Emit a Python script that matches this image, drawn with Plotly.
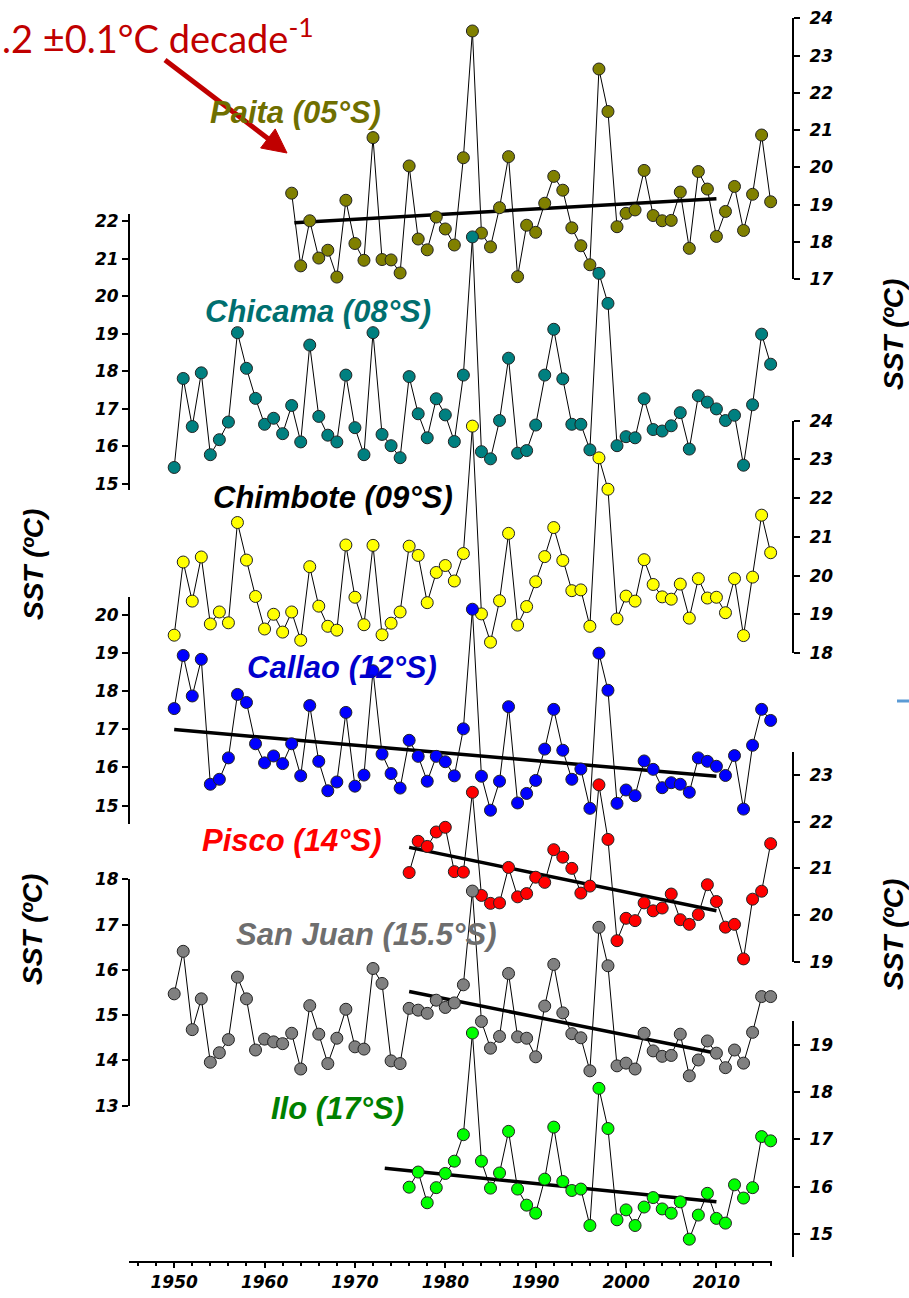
import plotly.graph_objects as go

# ---------------- data ----------------
years_full = list(range(1950, 2017))
paita_years = list(range(1963, 2017))
south_years = list(range(1976, 2017))

paita_sst = [19.31, 17.36, 18.57, 17.57, 17.78, 17.06, 19.12,
             17.96, 17.51, 20.80, 17.53, 17.52, 17.17, 20.04, 18.08, 17.79, 18.67,
             18.35, 17.92, 20.26, 23.66, 18.24, 17.87, 18.92, 20.29, 17.07, 18.45,
             18.26, 19.04, 19.76, 19.39, 18.38, 17.90, 17.39, 22.64, 21.50, 18.41,
             18.77, 18.86, 19.92, 18.71, 18.57, 18.58, 19.34, 17.83, 19.89, 19.42,
             18.15, 18.82, 19.49, 18.31, 19.28, 20.87, 19.08]

chicama_sst = [15.44, 17.81, 16.53, 17.96, 15.78, 16.18, 16.65, 19.03, 18.08, 17.28,
               16.59, 16.75, 16.34, 17.09, 16.12, 18.70, 16.80, 16.30, 16.12, 17.90,
               16.50, 15.78, 19.03, 16.32, 16.02, 15.70, 17.86, 16.87, 16.23, 17.27,
               16.84, 16.13, 17.90, 21.58, 15.86, 15.67, 16.69, 18.35, 15.82, 15.89,
               16.57, 17.90, 19.12, 17.80, 16.59, 16.59, 15.91, 20.61, 19.81, 16.02,
               16.26, 16.23, 17.27, 16.45, 16.41, 16.55, 16.90, 15.93, 17.35, 17.18,
               17.00, 16.69, 16.83, 15.50, 17.11, 18.99, 18.19]

chimbote_sst = [18.46, 20.35, 19.34, 20.48, 18.75, 19.06, 18.78, 21.37, 20.40, 19.46,
                18.62, 19.00, 18.54, 19.06, 18.33, 20.23, 19.21, 18.69, 18.59, 20.79,
                19.44, 18.73, 20.78, 18.47, 18.77, 19.06, 20.76, 20.52, 19.30, 20.08,
                20.26, 19.86, 20.57, 23.86, 19.01, 18.28, 19.35, 21.09, 18.72, 19.20,
                19.84, 20.49, 21.24, 20.39, 19.61, 19.63, 18.69, 23.04, 22.23, 18.88,
                19.47, 19.34, 20.41, 19.77, 19.45, 19.39, 19.78, 18.90, 19.92, 19.42,
                19.44, 19.04, 19.92, 18.45, 19.96, 21.56, 20.59]

callao_sst = [17.54, 18.93, 17.87, 18.83, 15.56, 15.69, 16.25, 17.91, 17.70, 16.62,
              16.12, 16.30, 16.10, 16.62, 15.78, 17.62, 16.16, 15.39, 15.62, 17.44,
              15.51, 15.80, 18.53, 16.35, 15.84, 15.46, 16.71, 16.29, 15.64, 16.29,
              16.15, 15.78, 17.01, 20.14, 15.77, 14.88, 15.64, 17.59, 15.07, 15.32,
              15.66, 16.48, 17.52, 16.45, 15.69, 15.96, 14.93, 18.99, 18.02, 15.06,
              15.41, 15.26, 16.17, 15.95, 15.47, 15.60, 15.56, 15.35, 16.25, 16.16,
              16.03, 15.79, 16.31, 14.91, 16.58, 17.52, 17.23]

pisco_sst = [20.91, 21.58, 21.47, 21.78,
             21.88, 20.93, 20.92, 22.63, 20.42, 20.25, 20.26, 21.02, 20.39, 20.46,
             20.81, 20.70, 21.40, 21.24, 21.00, 20.47, 20.62, 22.79, 21.62, 19.45,
             19.93, 19.88, 20.26, 20.09, 20.15, 20.45, 19.90, 19.80, 20.01, 20.65,
             20.29, 19.74, 19.80, 19.06, 20.34, 20.51, 21.53]

sanjuan_sst = [15.47, 16.41, 14.68, 15.36, 13.96, 14.17, 14.46, 15.84, 15.36, 14.23,
               14.47, 14.41, 14.37, 14.60, 13.81, 15.21, 14.58, 13.93, 14.49, 15.13,
               14.30, 14.25, 16.03, 15.70, 13.99, 13.93, 15.15, 15.11, 15.04, 15.33,
               15.17, 15.27, 15.67, 17.74, 14.86, 14.27, 14.53, 15.92, 14.52, 14.49,
               14.08, 15.20, 16.12, 15.05, 14.59, 14.50, 13.77, 16.94, 16.09, 13.88,
               13.94, 13.81, 14.60, 14.21, 14.09, 14.11, 14.58, 13.66, 14.01, 14.43,
               14.16, 13.84, 14.23, 13.94, 14.62, 15.41, 15.41]

ilo_sst = [15.99, 16.31, 15.66, 15.98,
           16.28, 16.54, 17.10, 19.25, 16.54, 15.97, 16.29, 17.17, 15.95, 15.61,
           15.44, 16.16, 17.26, 16.11, 15.92, 15.95, 15.18, 18.08, 17.23, 15.30,
           15.51, 15.18, 15.57, 15.77, 15.53, 15.44, 15.68, 14.89, 15.40, 15.86,
           15.33, 15.23, 16.04, 15.76, 15.98, 17.06, 16.97]

# linear trends (start/end)
paita_trend_years = [1963.3, 2010]
paita_trend = [18.52, 19.16]
callao_trend_years = [1950, 2010]
callao_trend = [16.99, 15.77]
pisco_trend_years = [1976, 2010]
pisco_trend = [21.45, 20.09]
sanjuan_trend_years = [1976, 2010]
sanjuan_trend = [15.52, 14.16]
ilo_trend_years = [1973.3, 2010]
ilo_trend = [16.39, 15.68]

# tick labels
x_ticks = [1950, 1960, 1970, 1980, 1990, 2000, 2010]
paita_ticks = [17, 18, 19, 20, 21, 22, 23, 24]
chicama_ticks = [15, 16, 17, 18, 19, 20, 21, 22]
chimbote_ticks = [18, 19, 20, 21, 22, 23, 24]
callao_ticks = [15, 16, 17, 18, 19, 20]
pisco_ticks = [19, 20, 21, 22, 23]
sanjuan_ticks = [13, 14, 15, 16, 17, 18]
ilo_ticks = [15, 16, 17, 18, 19]

station_names = ["Paita (05°S)", "Chicama (08°S)", "Chimbote (09°S)", "Callao (12°S)",
                 "Pisco (14°S)", "San Juan (15.5°S)", "Ilo (17°S)"]
trend_text = ".2 ±0.1°C decade<sup>-1</sup>"
axis_title = "SST (ºC)"

# ---------------- layout helpers ----------------
W, H = 909, 1298
ML, MR, MT, MB = 129, 116, 0, 36
PW = W - ML - MR
PH = H - MT - MB


def fx(p):
    return (p - ML) / PW


def fy(p):
    return (H - MB - p) / PH


FONT = "Liberation Sans"
tickfont = dict(family="DejaVu Sans", size=17, color="black", weight="bold", style="italic")

fig = go.Figure()

stations = [
    ("Paita", paita_years, paita_sst, paita_trend_years, paita_trend, "y", "#808000"),
    ("Chicama", years_full, chicama_sst, None, None, "y2", "#008080"),
    ("Chimbote", years_full, chimbote_sst, None, None, "y3", "#FFFF00"),
    ("Callao", years_full, callao_sst, callao_trend_years, callao_trend, "y4", "#0000FF"),
    ("Pisco", south_years, pisco_sst, pisco_trend_years, pisco_trend, "y5", "#FF0000"),
    ("San Juan", years_full, sanjuan_sst, sanjuan_trend_years, sanjuan_trend, "y6", "#808080"),
    ("Ilo", south_years, ilo_sst, ilo_trend_years, ilo_trend, "y7", "#00FF00"),
]

for name, yrs, vals, tyrs, tvals, ax, col in stations:
    if tyrs is not None:
        fig.add_trace(go.Scatter(x=tyrs, y=tvals, mode="lines", yaxis=ax,
                                 line=dict(color="black", width=3.5),
                                 hoverinfo="skip", showlegend=False))
    fig.add_trace(go.Scatter(x=yrs, y=vals, mode="lines+markers", yaxis=ax, name=name,
                             line=dict(color="black", width=1),
                             marker=dict(size=12, color=col, line=dict(color="#222222", width=1)),
                             cliponaxis=False, showlegend=False))


def yax(rng, px_bottom, px_top, side, ticks):
    return dict(range=rng, domain=[fy(px_bottom), fy(px_top)], anchor="free",
                position=0 if side == "left" else 1, side=side,
                showline=True, linecolor="black", linewidth=2,
                ticks="outside", ticklen=6, tickwidth=2, tickcolor="black",
                ticklabelstandoff=6 if side == "right" else 0,
                tickmode="array", tickvals=ticks, ticktext=[str(t) for t in ticks],
                tickfont=tickfont, showgrid=False, zeroline=False, automargin=False)


fig.update_layout(
    width=W, height=H,
    margin=dict(l=ML, r=MR, t=MT, b=MB),
    paper_bgcolor="white", plot_bgcolor="rgba(0,0,0,0)",
    showlegend=False,
    xaxis=dict(range=[1945.0, 2016.15], domain=[0, fx(772)], anchor="free", position=0,
               showline=True, linecolor="black", linewidth=2,
               ticks="outside", ticklen=5, tickwidth=2, tickcolor="black",
               tickmode="array", tickvals=x_ticks, ticktext=[str(t) for t in x_ticks],
               minor=dict(ticks="outside", ticklen=3, tickwidth=1.5, tickcolor="black",
                          dtick=2, tick0=1946, showgrid=False),
               tickfont=tickfont, showgrid=False, zeroline=False, automargin=False),
    yaxis=yax([17, 24], 279.3, 18.3, "right", paita_ticks),
    yaxis2=yax([14.84, 22.19], 490, 214, "left", chicama_ticks),
    yaxis3=yax([18, 24], 653, 420.7, "right", chimbote_ticks),
    yaxis4=yax([14.52, 20.46], 824, 597, "left", callao_ticks),
    yaxis5=yax([19, 23.5], 961.7, 751.7, "right", pisco_ticks),
    yaxis6=yax([13, 18], 1105.7, 879.3, "left", sanjuan_ticks),
    yaxis7=yax([14.52, 19.51], 1256.7, 1020.7, "right", ilo_ticks),
)

label_font = dict(family=FONT, size=31, weight="bold", style="italic")
label_pos = [(295, 112, "#6F6F00"), (318, 312, "#006F6F"), (333, 497, "#000000"),
             (342, 667, "#0000CC"), (292, 841, "#FF0000"), (366, 934, "#6E6E6E"),
             (337, 1108, "#008000")]
for txt, (x, y, c) in zip(station_names, label_pos):
    fig.add_annotation(x=fx(x), y=fy(y), xref="paper", yref="paper", text=txt,
                       showarrow=False, xanchor="center", yanchor="middle",
                       font=dict(label_font, color=c))

title_font = dict(family=FONT, size=28, color="black", weight="bold", style="italic")
for x, y in [(33, 565), (33, 930), (893, 335), (893, 935)]:
    fig.add_annotation(x=fx(x), y=fy(y), xref="paper", yref="paper", text=axis_title,
                       textangle=-90, showarrow=False, xanchor="center", yanchor="middle",
                       font=title_font)

# trend rate text
fig.add_annotation(x=fx(0), y=fy(36), xref="paper", yref="paper", text=trend_text,
                   showarrow=False, xanchor="left", yanchor="middle",
                   font=dict(family="Lato", size=38, color="#C00000"))

# arrow drawn as shapes (shaft + triangular head)
tail = (165, 60)
tip = (287, 153)
dx, dy = tip[0] - tail[0], tip[1] - tail[1]
L = (dx ** 2 + dy ** 2) ** 0.5
ux, uy = dx / L, dy / L
px_, py_ = -uy, ux
hl, hw = 24, 12
bx, by = tip[0] - hl * ux, tip[1] - hl * uy
fig.add_shape(type="line", xref="paper", yref="paper",
              x0=fx(tail[0]), y0=fy(tail[1]), x1=fx(bx + 2 * ux), y1=fy(by + 2 * uy),
              line=dict(color="#C00000", width=5))
c1 = (bx + hw * px_, by + hw * py_)
c2 = (bx - hw * px_, by - hw * py_)
path = "M {} {} L {} {} L {} {} Z".format(fx(tip[0]), fy(tip[1]), fx(c1[0]), fy(c1[1]),
                                          fx(c2[0]), fy(c2[1]))
fig.add_shape(type="path", xref="paper", yref="paper", path=path,
              fillcolor="#C00000", line=dict(color="#C00000", width=1))

# small blue fragment at the right edge
fig.add_shape(type="line", xref="paper", yref="paper", x0=fx(897), x1=fx(909),
              y0=fy(701), y1=fy(701), line=dict(color="#5B9BD5", width=3))

fig.write_html("out.html")
